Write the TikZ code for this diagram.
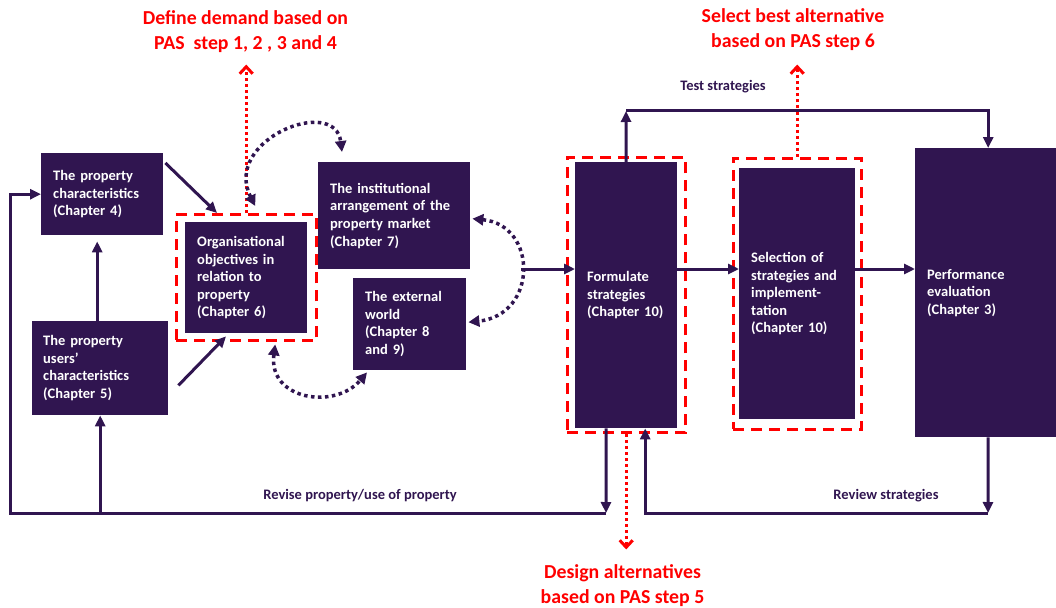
\documentclass[tikz,border=0pt]{standalone}
\usepackage{fontspec}
\setmainfont{Carlito}
\usetikzlibrary{arrows.meta,fit}
\definecolor{boxc}{RGB}{48,21,80}
\definecolor{pasred}{RGB}{255,0,0}

\begin{document}
\begin{tikzpicture}[x=1pt,y=-1pt,
  box/.style={fill=boxc,text=white,anchor=north west,align=left,inner xsep=12pt,inner ysep=0pt,font=\bfseries\fontsize{14.5}{17.6}\selectfont},
  pasbox/.style={draw=pasred,line width=3pt,dash pattern=on 11pt off 7pt},
  flow/.style={draw=boxc,line width=3pt,-{Triangle[length=11pt,width=10pt]}},
  loop/.style={draw=boxc,line width=3.5pt,dash pattern=on 3.5pt off 3.5pt,{Triangle[length=11pt,width=11pt]}-{Triangle[length=11pt,width=11pt]}},
  pasarrow/.style={draw=pasred,line width=3pt,dash pattern=on 3pt off 3pt,-{Straight Barb[length=7pt,width=13pt]}},
  note/.style={text=boxc,font=\bfseries\fontsize{14.5}{16}\selectfont},
  pas/.style={text=pasred,align=center,font=\bfseries\fontsize{19.8}{25}\selectfont}]
\useasboundingbox (0,0) rectangle (1056,607);

% boxes
\node[box,text width=98pt,minimum height=82pt] (pc) at (41,153) {The property\\characteristics\\(Chapter 4)};
\node[box,text width=114pt,minimum height=94pt,inner xsep=11pt] (pu) at (32,321) {The property\\users’\\characteristics\\(Chapter 5)};
\node[box,text width=98pt,minimum height=111pt] (oo) at (185,222) {Organisational\\objectives in\\relation to\\property\\(Chapter 6)};
\node[box,text width=128pt,minimum height=107pt] (ia) at (318,162) {The institutional\\arrangement of the\\property market\\(Chapter 7)};
\node[box,text width=89pt,minimum height=92pt] (ew) at (353,278) {The external\\world\\(Chapter 8\\and 9)};
\node[box,text width=78pt,minimum height=266pt] (fs) at (575,162) {Formulate\\strategies\\(Chapter 10)};
\node[box,text width=92pt,minimum height=251pt] (ss) at (739,168) {Selection of\\strategies and\\implement-\\tation\\(Chapter 10)};
\node[box,text width=117pt,minimum height=289pt] (pe) at (915,148) {Performance\\evaluation\\(Chapter 3)};

% PAS steps
\node[pasbox,fit=(oo),inner xsep=9pt,inner ysep=7.5pt] (ood) {};
\node[pasbox,fit=(fs),inner xsep=8pt,inner ysep=4.5pt] (fsd) {};
\node[pasbox,fit=(ss),inner xsep=6pt,inner ysep=10pt] (ssd) {};

\node[pas] (defl) at (245.5,32) {Define demand based on\\PAS\ \ step 1, 2 , 3 and 4};
\node[pas] (sell) at (793,30) {Select best alternative\\based on PAS step 6};
\node[pas] (desl) at (622.5,586) {Design alternatives\\based on PAS step 5};

\draw[pasarrow] (ood.north) -- ([yshift=-8pt]ood.north |- defl.south);
\draw[pasarrow] (ssd.north) -- ([yshift=-10pt]ssd.north |- sell.south);
\draw[pasarrow] (fsd.south) -- ([yshift=12pt]fsd.south |- desl.north);

% inputs to objectives
\draw[flow] ([xshift=-3pt]pu.north) -- ([xshift=-3pt,yshift=-6pt]pu.north |- pc.south);
\draw[flow] ([xshift=2pt,yshift=-10pt]pc.north east) -- ([xshift=32pt,yshift=9pt]oo.north west);
\draw[flow] ([xshift=10pt,yshift=30pt]pu.south east) -- ([xshift=41pt,yshift=-3pt]oo.south west);

% interactions
\draw[loop] ([xshift=9pt,yshift=7pt]ood.north) .. controls (222,140) and (335,95) .. ([xshift=24pt,yshift=10pt]ia.north west);
\draw[loop] ([xshift=29pt,yshift=-2pt]ood.south) .. controls (268,400) and (335,410) .. ([xshift=14pt,yshift=-2pt]ew.south west);
\draw[loop] ([xshift=2pt,yshift=-3pt]ia.east) .. controls (538,225) and (538,315) .. ([xshift=2pt,yshift=2pt]ew.east);

% main flow
\coordinate (jn) at (521,269);
\draw[flow] (jn) -- (fs.west |- jn);
\draw[flow] (fs.east |- jn) -- (ss.west |- jn);
\draw[flow] (ss.east |- jn) -- (pe.west |- jn);

% test strategies
\coordinate (tc) at (626,111);
\draw[flow] (fs.north) -- (tc);
\draw[flow] (tc) -| ([xshift=2.5pt]pe.north);
\node[note] (tsl) at (723,87) {Test strategies};

% revise property
\coordinate (rl) at (606,513);
\coordinate (bl) at (10,513);
\draw[flow] ([xshift=-20pt]fs.south) -- (rl);
\draw[flow] (rl) -- (bl) |- (pc.west);
\draw[flow] (pu.south |- rl) -- (pu.south);
\node[note] (rpl) at (360,496) {Revise property/use of property};

% review strategies
\coordinate (rr) at (988,513);
\draw[flow] ([xshift=2.5pt]pe.south) -- (rr);
\draw[flow] (rr) -| ([xshift=19pt]fs.south);
\node[note] (rsl) at (886,496) {Review strategies};

\end{tikzpicture}
\end{document}
